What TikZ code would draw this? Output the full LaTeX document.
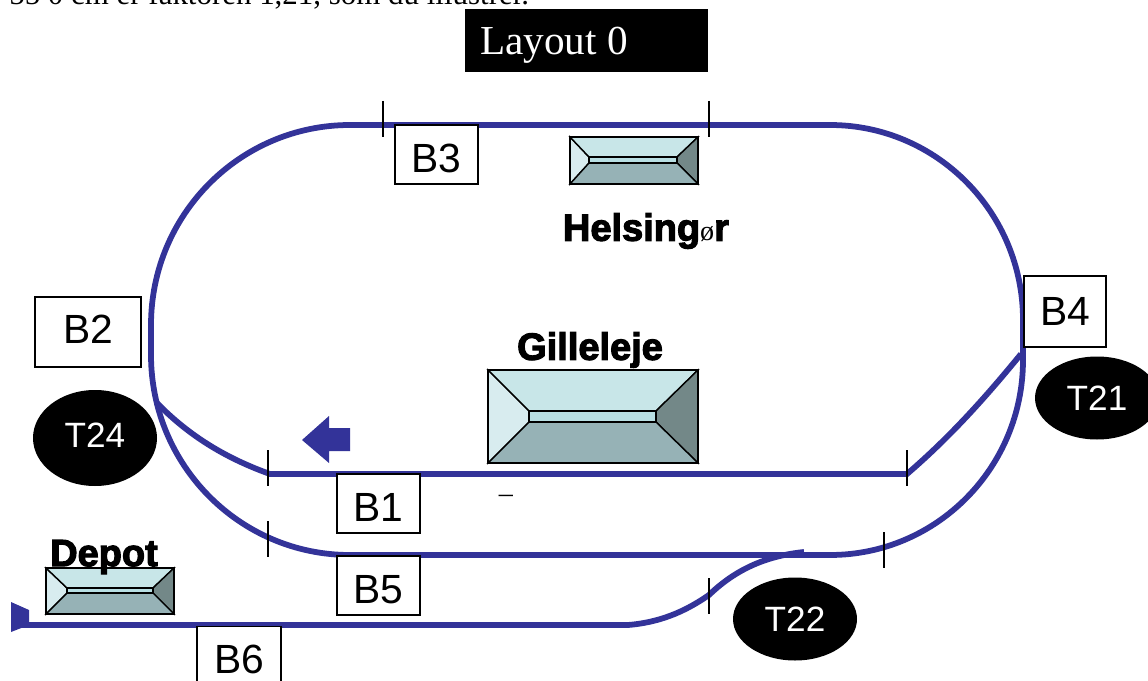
\documentclass[tikz,border=0pt]{standalone}
\usepackage{fontspec}
\setmainfont{Liberation Sans}
\newfontfamily\serifface{Liberation Serif}
\newfontfamily\blackface[FakeBold=3]{Liberation Sans Bold}
\usetikzlibrary{calc}
\usetikzlibrary{shapes.geometric}
\definecolor{trackblue}{HTML}{333399}
\definecolor{roofleft}{HTML}{D8ECEF}
\definecolor{rooftop}{HTML}{C8E6E8}
\definecolor{roofmid}{HTML}{B8DEE2}
\definecolor{roofright}{HTML}{738888}
\definecolor{roofbottom}{HTML}{96B2B6}

\tikzset{
	track/.style={trackblue,line width=4.1pt},
	marker/.style={black,line width=0.9pt},
	section/.style={draw=black,fill=white,line width=0.9pt,inner sep=0pt,font=\fontsize{29}{29}\selectfont},
	lowered/.style={text height=25pt,text depth=0pt},
	raised/.style={text height=16.6pt,text depth=0pt},
	train/.style={ellipse,fill=black,text=white,inner sep=0pt,font=\fontsize{25}{25}\selectfont},
	place/.style={inner sep=0pt,font=\fontsize{27}{27}\blackface},
}

\begin{document}
\begin{tikzpicture}[x=0.025cm,y=-0.025cm]
	\useasboundingbox (0,0) rectangle (1148,681);
	\fill[white] (0,0) rectangle (1148,681);

	\node[anchor=base west,inner sep=0pt,font=\fontsize{22}{22}\serifface] (intro) at (9,5) {55 0 cm er faktoren 1,21, som du illustrer.};

	\node[fill=black,anchor=north west,minimum width=243*0.025cm,minimum height=63*0.025cm,inner sep=0pt] (title) at (465,9) {};
	\node[text=white,anchor=west,inner sep=0pt,font=\fontsize{29.3}{29}\serifface] (titletext) at (480,45) {Layout 0};

	% outer loop
	\draw[track] (350,125) -- (830,125) arc (-90:0:193 and 195) -- (1023,360) arc (0:90:193 and 195) -- (350,555) arc (90:180:199 and 200) -- (151,325) arc (180:270:199 and 200) -- cycle;
	% inner siding
	\draw[track] (157,403) .. controls (190,437) and (228,459) .. (270,474) -- (907,474) .. controls (950,437) and (985,398) .. (1021,354);
	% depot line
	\draw[track] (22,625) -- (628,625) .. controls (665,622) and (690,608) .. (709,595) .. controls (735,570) and (765,556) .. (804,552);

	\fill[trackblue] (11,602) -- (29,610) -- (29,625) -- (11,632) -- cycle;
	\fill[trackblue] (302,440) -- (329,416) -- (329,428) -- (350,428) -- (350,451) -- (329,451) -- (329,463) -- cycle;

	% section ends
	\foreach \x/\y in {383/101,709/101,268/450,268/521,907/450,884/532,709/578}
	\draw[marker] (\x,\y) -- ++(0,36);

	% sections
	\node[section,lowered,minimum width=83*0.025cm,minimum height=59*0.025cm] (b3) at (436.5,154.5) {B3};
	\node[section,raised,minimum width=106*0.025cm,minimum height=70*0.025cm] (b2) at (88,332) {B2};
	\node[section,minimum width=82*0.025cm,minimum height=71*0.025cm] (b4) at (1065,311.5) {B4};
	\node[section,lowered,minimum width=83*0.025cm,minimum height=59*0.025cm] (b1) at (378.5,503.5) {B1};
	\node[section,lowered,minimum width=83*0.025cm,minimum height=59*0.025cm] (b5) at (378.5,585.5) {B5};
	\node[section,lowered,minimum width=84*0.025cm,minimum height=59*0.025cm,anchor=north] (b6) at (239,626) {B6};

	% trains
	\node[train,text height=13pt,text depth=0pt,minimum width=124*0.025cm,minimum height=96*0.025cm] (t24) at (95,438) {T24};
	\node[train,minimum width=124*0.025cm,minimum height=83*0.025cm] (t21) at (1097,398) {T21};
	\node[train,minimum width=124*0.025cm,minimum height=83*0.025cm] (t22) at (795,619) {T22};

	% stations
	\foreach \xa/\ya/\xb/\yb/\xc/\yc/\xd/\yd in {488/370/698/463/529/411/656/422,570/137/698/184/589/157/677/163,46/568/174/614/67/588/153/593}{
		\filldraw[fill=roofleft,draw=black,line width=1pt] (\xa,\ya) -- (\xc,\yc) -- (\xc,\yd) -- (\xa,\yb) -- cycle;
		\filldraw[fill=rooftop,draw=black,line width=1pt] (\xa,\ya) -- (\xb,\ya) -- (\xd,\yc) -- (\xc,\yc) -- cycle;
		\filldraw[fill=roofright,draw=black,line width=1pt] (\xb,\ya) -- (\xb,\yb) -- (\xd,\yd) -- (\xd,\yc) -- cycle;
		\filldraw[fill=roofbottom,draw=black,line width=1pt] (\xa,\yb) -- (\xb,\yb) -- (\xd,\yd) -- (\xc,\yd) -- cycle;
		\filldraw[fill=roofmid,draw=black,line width=1pt] (\xc,\yc) rectangle (\xd,\yd);
		\draw[black,line width=1.2pt] (\xa,\ya) rectangle (\xb,\yb);
	}

	\node[place] (helsingor) at (646,231) {Helsing{\fontsize{20}{20}\serifface ø}r};
	\node[place] (gilleleje) at (590,350) {Gilleleje};
	\node[place] (depot) at (104,557) {Depot};
	\node[inner sep=0pt,font=\fontsize{20}{20}\serifface] (dash) at (506,499) {–};
\end{tikzpicture}
\end{document}
